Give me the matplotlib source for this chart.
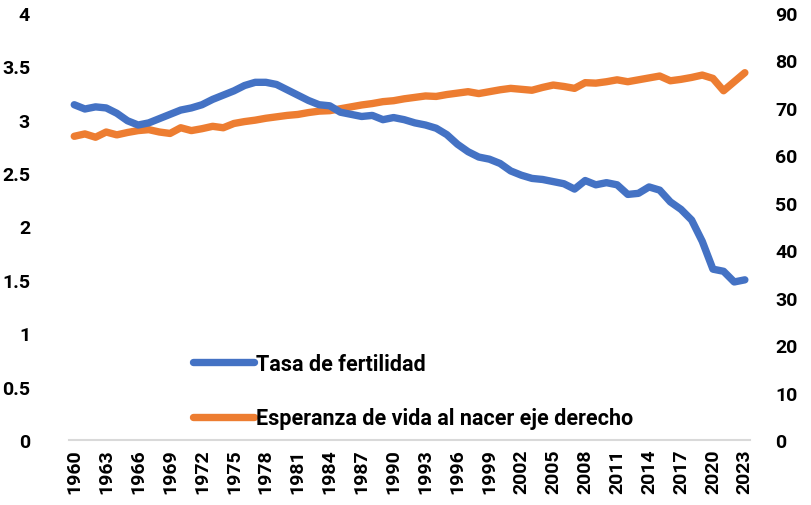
import matplotlib
matplotlib.use('Agg')
import matplotlib.pyplot as plt
from matplotlib.lines import Line2D

plt.rcParams['font.family'] = ['Roboto', 'DejaVu Sans']
plt.rcParams['font.weight'] = 'bold'

years = list(range(1960, 2024))

# Tasa de fertilidad (eje izquierdo)
fertilidad = [3.14, 3.10, 3.12, 3.11, 3.06, 2.99, 2.95, 2.97, 3.01, 3.05,
              3.09, 3.11, 3.14, 3.19, 3.23, 3.27, 3.32, 3.35, 3.35, 3.33,
              3.28, 3.23, 3.18, 3.14, 3.13, 3.07, 3.05, 3.03, 3.04, 3.00,
              3.02, 3.00, 2.97, 2.95, 2.92, 2.86, 2.77, 2.70, 2.65, 2.63,
              2.59, 2.52, 2.48, 2.45, 2.44, 2.42, 2.40, 2.35, 2.43, 2.39,
              2.41, 2.39, 2.30, 2.31, 2.37, 2.34, 2.23, 2.16, 2.06, 1.86,
              1.60, 1.58, 1.48, 1.50]

# Esperanza de vida al nacer (eje derecho)
esperanza = [64.0, 64.5, 63.8, 64.9, 64.3, 64.8, 65.2, 65.4, 64.9, 64.6,
             65.8, 65.2, 65.6, 66.1, 65.8, 66.7, 67.1, 67.4, 67.8, 68.1,
             68.4, 68.6, 69.0, 69.3, 69.4, 69.8, 70.2, 70.6, 70.9, 71.3,
             71.5, 71.9, 72.2, 72.5, 72.4, 72.8, 73.1, 73.4, 73.0, 73.4,
             73.8, 74.1, 73.9, 73.7, 74.3, 74.8, 74.5, 74.1, 75.3, 75.2,
             75.5, 75.9, 75.5, 75.9, 76.3, 76.7, 75.7, 76.0, 76.4, 76.9,
             76.2, 73.6, 75.5, 77.4]

left_ticks = [0, 0.5, 1, 1.5, 2, 2.5, 3, 3.5, 4]
left_labels = ['0', '0.5', '1', '1.5', '2', '2.5', '3', '3.5', '4']
right_ticks = [0, 10, 20, 30, 40, 50, 60, 70, 80, 90]

blue = '#4472C4'
orange = '#ED7D31'

fig = plt.figure(figsize=(8.11, 5.06), dpi=100)
ax = fig.add_axes([0.085, 0.1285, 0.840, 0.844])
ax2 = ax.twinx()

ax.plot(years, fertilidad, color=blue, lw=5.3, solid_capstyle='round', solid_joinstyle='round', zorder=3)
ax2.plot(years, esperanza, color=orange, lw=5.3, solid_capstyle='round', solid_joinstyle='round')
ax.set_zorder(ax2.get_zorder() + 1)
ax.patch.set_visible(False)

ax.set_xlim(1959.5, 2023.5)
ax.set_ylim(0, 4)
ax2.set_ylim(0, 90)

ax.set_yticks(left_ticks)
ax.set_yticklabels(left_labels)
ax2.set_yticks(right_ticks)
ax.set_xticks(years[::3])
ax.set_xticklabels([str(y) for y in years[::3]], rotation=90)

for a in (ax, ax2):
    for s in a.spines.values():
        s.set_visible(False)
    a.tick_params(length=0, labelsize=14)
ax.spines['bottom'].set_visible(True)
ax.spines['bottom'].set_color('#D9D9D9')
ax.spines['bottom'].set_linewidth(1.5)
ax.tick_params(axis='y', pad=28)
ax.tick_params(axis='x', pad=6)
ax2.tick_params(axis='y', pad=18)

handles = [Line2D([], [], color=blue, lw=5.3, solid_capstyle='round'),
           Line2D([], [], color=orange, lw=5.3, solid_capstyle='round')]
ax.legend(handles, ['Tasa de fertilidad', 'Esperanza de vida al nacer eje derecho'],
          loc='upper left', bbox_to_anchor=(0.17, 0.224), frameon=False,
          fontsize=15.5, handlelength=2.8, handletextpad=0.12, labelspacing=1.5,
          borderaxespad=0)

fig.savefig('out.png', dpi=100)
